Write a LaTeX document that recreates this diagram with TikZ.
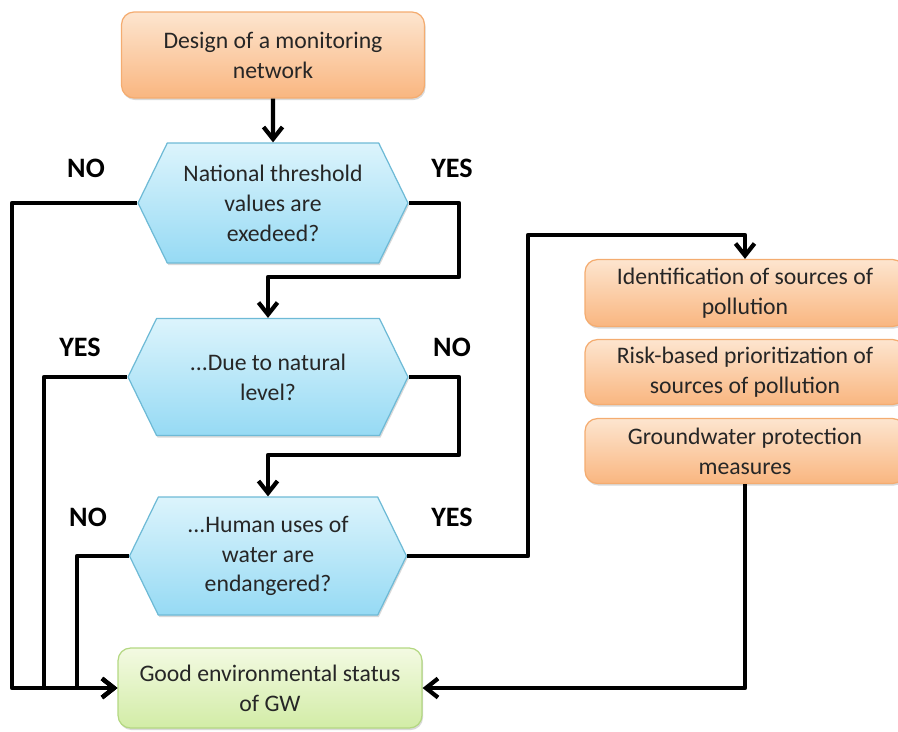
\documentclass[tikz,border=0pt]{standalone}
\usepackage{fontspec}
\setmainfont{Carlito}
\usetikzlibrary{shapes.symbols,arrows.meta,shadows}
\definecolor{camsang}{RGB}{253,229,207}
\definecolor{camdam}{RGB}{249,182,128}
\definecolor{camvien}{RGB}{244,172,112}
\definecolor{lamsang}{RGB}{220,244,252}
\definecolor{lamdam}{RGB}{150,218,244}
\definecolor{lamvien}{RGB}{110,186,214}
\definecolor{xanhsang}{RGB}{243,250,226}
\definecolor{xanhdam}{RGB}{210,236,166}
\definecolor{xanhvien}{RGB}{180,216,130}
\definecolor{chu}{RGB}{38,38,38}
\tikzset{
	bong/.style={drop shadow={opacity=0.3,shadow xshift=0.6pt,shadow yshift=-1.2pt}},
	hop/.style={rectangle,rounded corners=0.25cm,align=center,text=chu,inner sep=2pt,
		font=\fontsize{13.5}{17}\selectfont,bong,line width=0.7pt},
	hopcam/.style={hop,draw=camvien,top color=camsang,bottom color=camdam},
	hopxanh/.style={hop,draw=xanhvien,top color=xanhsang,bottom color=xanhdam},
	hoplam/.style={signal,signal to=west and east,signal pointer angle=128,draw=lamvien,
		top color=lamsang,bottom color=lamdam,align=center,text=chu,inner sep=1pt,
		font=\fontsize{13.5}{17}\selectfont,bong,line width=0.7pt},
	nhan/.style={font=\fontsize{16}{18}\selectfont\bfseries},
	noi/.style={line width=2.4pt,->}
}
\begin{document}
\begin{tikzpicture}[x=0.02cm,y=-0.02cm,>={Straight Barb[length=2.4mm,width=3.8mm]},line join=round]
	\useasboundingbox (0,0) rectangle (898,731);
	% Cac o
	\node[hopcam,minimum width=6.06cm,minimum height=1.72cm] (thietke) at (273,55) {Design of a monitoring\\network};
	\node[hoplam,minimum width=5.4cm,minimum height=2.4cm] (hoi1) at (273,203) {National threshold\\values are\\exedeed?};
	\node[hoplam,minimum width=5.6cm,minimum height=2.34cm] (hoi2) at (268,377) {...Due to natural\\level?};
	\node[hoplam,minimum width=5.54cm,minimum height=2.36cm] (hoi3) at (268,556) {...Human uses of\\water are\\endangered?};
	\node[hopxanh,minimum width=6.08cm,minimum height=1.6cm] (tot) at (270,688) {Good environmental status\\of GW};
	\node[hopcam,minimum width=6.4cm,minimum height=1.34cm] (nguon) at (745,293) {Identification of sources of\\pollution};
	\node[hopcam,minimum width=6.4cm,minimum height=1.3cm] (uutien) at (745,372) {Risk-based prioritization of\\sources of pollution};
	\node[hopcam,minimum width=6.4cm,minimum height=1.3cm] (baove) at (745,451) {Groundwater protection\\measures};
	% Nhan
	\node[nhan] (no1) at (86,168) {NO};
	\node[nhan] (yes1) at (452,168) {YES};
	\node[nhan] (yes2) at (80,347) {YES};
	\node[nhan] (no2) at (452,347) {NO};
	\node[nhan] (no3) at (88,517) {NO};
	\node[nhan] (yes3) at (452,517) {YES};
	% Duong noi
	\coordinate (l1) at (12,0); \coordinate (l2) at (44,0); \coordinate (l3) at (77,0);
	\coordinate (g1) at (459,277); \coordinate (g2) at (459,455); \coordinate (g3) at (528,235);
	\draw[noi] (thietke) -- (hoi1);
	\draw[noi] (hoi1.west) -- (hoi1.west -| l1) |- (tot.west);
	\draw[noi] (hoi2.west) -- (hoi2.west -| l2) |- (tot.west);
	\draw[noi] (hoi3.west) -- (hoi3.west -| l3) |- (tot.west);
	\draw[noi] (hoi1.east) -| (g1) -| (hoi2.north);
	\draw[noi] (hoi2.east) -| (g2) -| (hoi3.north);
	\draw[noi] (hoi3.east) -| (g3) -| (nguon.north);
	\draw[noi] (baove.south) |- (tot.east);
\end{tikzpicture}
\end{document}
